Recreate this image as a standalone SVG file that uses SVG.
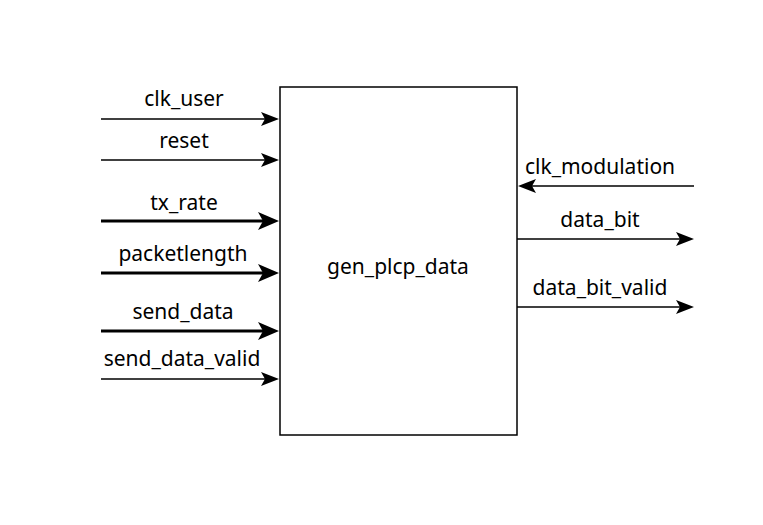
<svg xmlns="http://www.w3.org/2000/svg" width="763" height="525" viewBox="0 0 763 525">
<style>
text{font-family:"Noto Sans","DejaVu Sans",sans-serif;font-size:21px;fill:#000;text-anchor:middle}
.w{stroke:#000;stroke-width:1.5;fill:none}
.b{stroke:#000;stroke-width:3;fill:none}
.h{fill:#000}
</style>
<rect width="763" height="525" fill="#fff"/>
<g id="block">
<rect x="280" y="87" width="237" height="348" fill="#fff" stroke="#000" stroke-width="1.5"/>
<text x="398" y="274">gen_plcp_data</text>
</g>
<g id="connectors">
<line class="w" x1="101" y1="119" x2="270" y2="119"/><path class="h" d="M279,119 L261,112 L265,119 L261,126 Z"/>
<line class="w" x1="101" y1="160" x2="270" y2="160"/><path class="h" d="M279,160 L261,153 L265,160 L261,167 Z"/>
<line class="b" x1="101" y1="221" x2="268" y2="221"/><path class="h" d="M279,221 L258,212 L263,221 L258,230 Z"/>
<line class="b" x1="101" y1="273" x2="268" y2="273"/><path class="h" d="M279,273 L258,264 L263,273 L258,282 Z"/>
<line class="b" x1="101" y1="331" x2="268" y2="331"/><path class="h" d="M279,331 L258,322 L263,331 L258,340 Z"/>
<line class="w" x1="101" y1="379" x2="270" y2="379"/><path class="h" d="M279,379 L261,372 L265,379 L261,386 Z"/>
<line class="w" x1="694" y1="186" x2="527" y2="186"/><path class="h" d="M518,186 L536,179 L532,186 L536,193 Z"/>
<line class="w" x1="517" y1="239" x2="685" y2="239"/><path class="h" d="M694,239 L676,232 L680,239 L676,246 Z"/>
<line class="w" x1="517" y1="307" x2="685" y2="307"/><path class="h" d="M694,307 L676,300 L680,307 L676,314 Z"/>
</g>
<g id="labels">
<text x="184" y="106">clk_user</text>
<text x="184" y="148">reset</text>
<text x="184" y="210">tx_rate</text>
<text x="183" y="261">packetlength</text>
<text x="183" y="319">send_data</text>
<text x="182" y="366">send_data_valid</text>
<text x="600" y="174">clk_modulation</text>
<text x="600" y="227">data_bit</text>
<text x="600" y="295">data_bit_valid</text>
</g>
</svg>
